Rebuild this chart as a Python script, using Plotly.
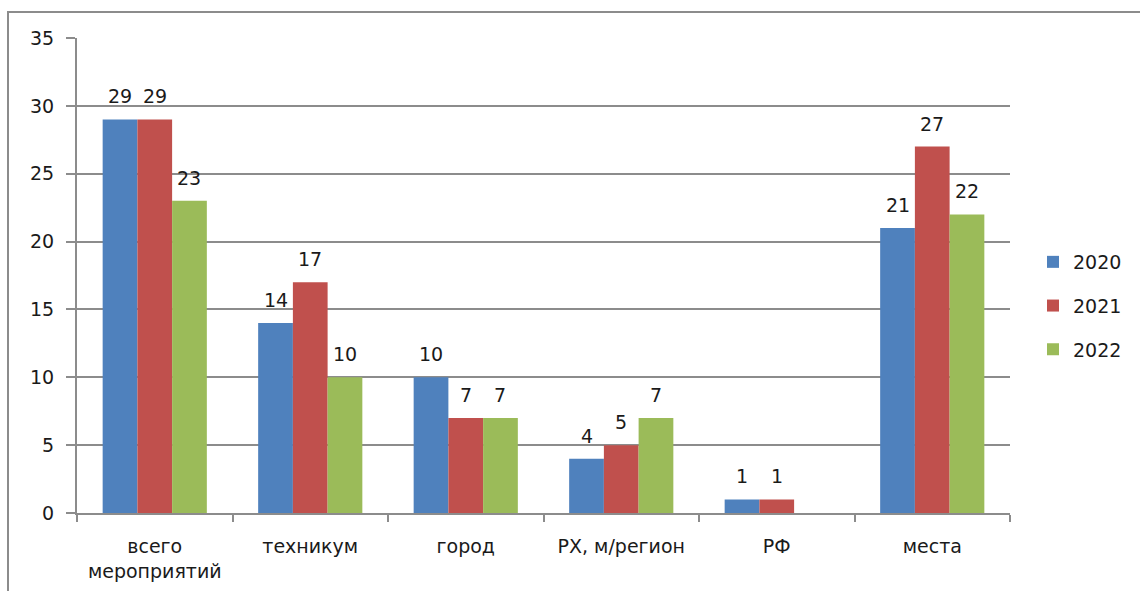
import plotly.graph_objects as go

categories = ["всего<br>мероприятий", "техникум", "город", "РХ, м/регион", "РФ", "места"]
years = ["2020", "2021", "2022"]
values_2020 = [29, 14, 10, 4, 1, 21]
values_2021 = [29, 17, 7, 5, 1, 27]
values_2022 = [23, 10, 7, 7, None, 22]
colors = ["#4f81bd", "#c0504d", "#9bbb59"]

W, H = 1140, 591
ML, MR, MT, MB = 77, 130, 38, 78
font_family = "DejaVu Sans, sans-serif"
font_size = 19
text_color = "#1a1a1a"
grid_color = "#8c8c8c"
bargap = 0.33

plot_w = W - ML - MR
plot_h = H - MT - MB
bar_px = plot_w / len(categories) * (1 - bargap) / len(years)

fig = go.Figure()
annotations = []
series = [values_2020, values_2021, values_2022]
for i, (name, vals, col) in enumerate(zip(years, series, colors)):
    fig.add_trace(go.Bar(
        x=categories,
        y=vals,
        name=name,
        legendgroup=name,
        marker=dict(color=col, line=dict(color=col, width=0)),
    ))
    # value labels above each bar
    for cat, v in zip(categories, vals):
        if v is None:
            continue
        annotations.append(dict(
            x=cat, y=v, xref="x", yref="y",
            text=str(v), showarrow=False,
            xshift=(i - 1) * bar_px, yshift=23,
            yanchor="middle", xanchor="center",
            font=dict(size=font_size, color=text_color, family=font_family),
        ))

fig.update_layout(
    width=W, height=H,
    margin=dict(l=ML, r=MR, t=MT, b=MB, pad=0, autoexpand=False),
    paper_bgcolor="white",
    plot_bgcolor="white",
    barmode="group",
    bargap=bargap,
    bargroupgap=0,
    font=dict(family=font_family, size=font_size, color=text_color),
    showlegend=True,
    legend=dict(
        x=(1033 - ML) / plot_w, xanchor="left",
        y=(513 - 306) / plot_h, yanchor="middle",
        font=dict(size=font_size, color=text_color),
        itemwidth=30,
        tracegroupgap=16,
        bgcolor="rgba(0,0,0,0)",
    ),
    xaxis=dict(
        type="category",
        tickson="boundaries",
        ticks="outside",
        ticklen=7,
        tickwidth=2,
        tickcolor=grid_color,
        showline=True,
        linecolor=grid_color,
        linewidth=2,
        showgrid=False,
        tickfont=dict(size=font_size, color=text_color),
        ticklabelstandoff=15,
        automargin=False,
        fixedrange=True,
    ),
    yaxis=dict(
        range=[0, 35],
        dtick=5,
        ticks="outside",
        ticklen=9,
        tickwidth=2,
        tickcolor=grid_color,
        showline=True,
        linecolor=grid_color,
        linewidth=2,
        showgrid=True,
        gridcolor=grid_color,
        gridwidth=2,
        zeroline=False,
        tickfont=dict(size=font_size, color=text_color),
        ticklabelstandoff=8,
        automargin=False,
        fixedrange=True,
    ),
    annotations=annotations,
    shapes=[dict(
        type="rect", xref="paper", yref="paper",
        x0=(8 - ML) / plot_w, x1=(W + 20 - ML) / plot_w,
        y0=(513 - (H + 20)) / plot_h, y1=(513 - 12) / plot_h,
        line=dict(color="#8c8c8c", width=2),
        fillcolor="rgba(0,0,0,0)",
        layer="below",
    )],
)

fig.write_html("out.html")
